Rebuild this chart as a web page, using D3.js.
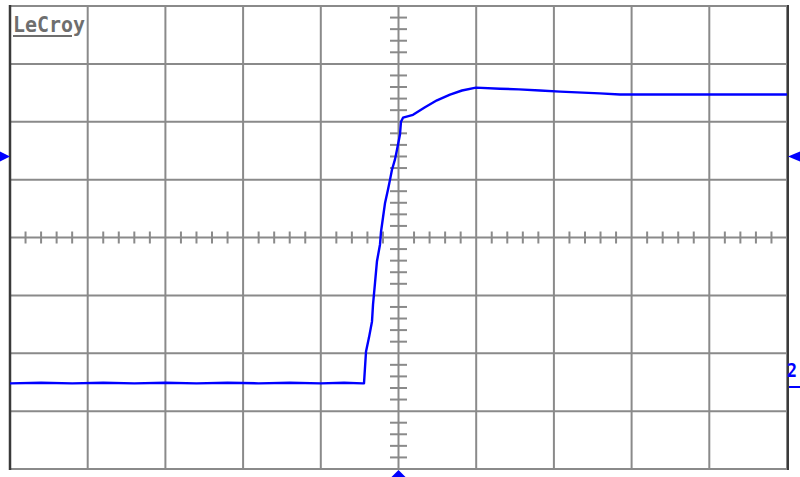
<!DOCTYPE html>
<html><head><meta charset="utf-8">
<script src="https://cdn.jsdelivr.net/npm/d3@7"></script>
<style>html,body{margin:0;padding:0;background:#fff;}svg{display:block;}</style>
</head><body>
<svg id="c" width="800" height="477"></svg>
<script>
// Time axis in divisions (-5..5), voltage in divisions (-4..4)
const timeDiv = [-5.0,-4.6,-4.2,-3.8,-3.4,-3.0,-2.6,-2.2,-1.8,-1.4,-1.0,-0.7,-0.46,-0.444,-0.418,-0.380,-0.341,-0.328,-0.302,-0.277,-0.238,-0.225,-0.199,-0.174,-0.135,-0.109,-0.084,-0.045,-0.019,0.019,0.032,0.058,0.187,0.341,0.495,0.663,0.817,0.997,1.306,1.55,1.821,2.08,2.59,2.85,3.5,4.2,5.0];
const voltDiv = [-2.52,-2.51,-2.52,-2.51,-2.52,-2.51,-2.52,-2.51,-2.52,-2.51,-2.52,-2.51,-2.52,-2.52,-1.97,-1.73,-1.45,-1.16,-0.78,-0.41,-0.12,0.10,0.35,0.59,0.83,1.00,1.17,1.35,1.52,1.78,2.00,2.07,2.12,2.25,2.37,2.47,2.54,2.59,2.57,2.56,2.54,2.52,2.49,2.47,2.47,2.47,2.47];
const xGridDiv = [-5,-4,-3,-2,-1,0,1,2,3,4,5];
const yGridDiv = [-4,-3,-2,-1,0,1,2,3,4];
const brandLabel = "LeCroy";
const channelLabel = "2";
const triggerLevelDiv = 1.40;

const svg = d3.select("#c");
const x = d3.scaleLinear().domain([-5,5]).range([10,787]);
const y = d3.scaleLinear().domain([-4,4]).range([469,6]);
const gridCol = "#8a8a8a";

// grid
const g = svg.append("g");
g.selectAll("line.v").data(xGridDiv).join("line")
  .attr("x1",d=>x(d)).attr("x2",d=>x(d)).attr("y1",y(4)).attr("y2",y(-4))
  .attr("stroke",gridCol).attr("stroke-width",2);
g.selectAll("line.h").data(yGridDiv).join("line")
  .attr("x1",x(-5)).attr("x2",x(5)).attr("y1",d=>y(d)).attr("y2",d=>y(d))
  .attr("stroke",gridCol).attr("stroke-width",2);

// minor ticks on center axes
const xMinor = d3.range(-5,5.001,0.2).filter(v=>Math.abs(v-Math.round(v))>1e-6);
const yMinor = d3.range(-4,4.001,0.2).filter(v=>Math.abs(v-Math.round(v))>1e-6);
g.selectAll("line.xm").data(xMinor).join("line")
  .attr("x1",d=>x(d)).attr("x2",d=>x(d)).attr("y1",y(0)-6).attr("y2",y(0)+6)
  .attr("stroke",gridCol).attr("stroke-width",2);
g.selectAll("line.ym").data(yMinor).join("line")
  .attr("x1",x(0)-8.5).attr("x2",x(0)+8.5).attr("y1",d=>y(d)).attr("y2",d=>y(d))
  .attr("stroke",gridCol).attr("stroke-width",2);

// borders
svg.append("line").attr("x1",x(-5)).attr("x2",x(-5)).attr("y1",y(4)-1).attr("y2",y(-4)+1)
  .attr("stroke","#3a3a3a").attr("stroke-width",2.5);
svg.append("line").attr("x1",x(5)+1).attr("x2",x(5)+1).attr("y1",y(4)-1).attr("y2",y(-4)+1)
  .attr("stroke","#3a3a3a").attr("stroke-width",2);

// brand
svg.append("text").attr("x",13).attr("y",32).text(brandLabel)
  .attr("font-family","DejaVu Sans Mono").attr("font-weight","bold").attr("font-size",22)
  .attr("textLength",72).attr("lengthAdjust","spacingAndGlyphs").attr("fill","#6e6e6e");
svg.append("line").attr("x1",13).attr("x2",72).attr("y1",36).attr("y2",36)
  .attr("stroke","#6e6e6e").attr("stroke-width",2);

// trace
const line = d3.line().x(d=>x(d[0])).y(d=>y(d[1]));
svg.append("path").datum(d3.zip(timeDiv,voltDiv)).attr("d",line)
  .attr("fill","none").attr("stroke","#0000ff").attr("stroke-width",2.4)
  .attr("stroke-linejoin","round");

// markers
const blue = "#0000ff";
const ty = y(triggerLevelDiv);
svg.append("path").attr("d",`M0,${ty-5}L10,${ty}L0,${ty+5}Z`).attr("fill",blue);
svg.append("path").attr("d",`M800,${ty-5}L788,${ty}L800,${ty+5}Z`).attr("fill",blue);
const bx = x(0);
svg.append("path").attr("d",`M${bx},470L${bx+7},477L${bx-7},477Z`).attr("fill",blue);
svg.append("text").attr("x",787).attr("y",377).text(channelLabel)
  .attr("font-family","DejaVu Sans Mono").attr("font-weight","bold").attr("font-size",20)
  .attr("textLength",10).attr("lengthAdjust","spacingAndGlyphs")
  .attr("fill",blue);
svg.append("line").attr("x1",789).attr("x2",800).attr("y1",387).attr("y2",387)
  .attr("stroke",blue).attr("stroke-width",2);
</script>
</body></html>
